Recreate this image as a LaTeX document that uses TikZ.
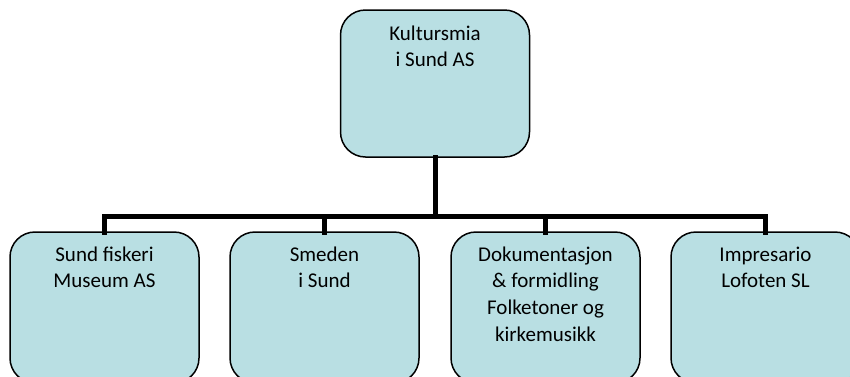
\documentclass[tikz,border=0pt]{standalone}
\usepackage{fontspec}
\setmainfont{Carlito}
\definecolor{boxfill}{RGB}{185,223,227}
\begin{document}
\begin{tikzpicture}[x=1pt,y=-1pt,
  orgbox/.style={draw=black,line width=1.5pt,fill=boxfill,rounded corners=25pt,
    minimum width=189pt,inner sep=0pt,outer sep=0pt,anchor=north},
  orgtext/.style={align=center,anchor=base,inner sep=0pt,
    font={\fontsize{21}{26.7}\selectfont}},
  conn/.style={line width=5pt,line join=miter,line cap=rect}]
\useasboundingbox (0,0) rectangle (850,376);
\clip (0,0) rectangle (850,376);
\node[orgbox,minimum height=147pt] (k0) at (435,10) {};
\node[orgbox,minimum height=151pt] (k1) at (104.5,232) {};
\node[orgbox,minimum height=151pt] (k2) at (324.5,232) {};
\node[orgbox,minimum height=151pt] (k3) at (545.5,232) {};
\node[orgbox,minimum height=151pt] (k4) at (765.5,232) {};
\node[orgtext] (t0) at (435,66.7) {Kultursmia\\i Sund AS};
\node[orgtext] (t1) at (104.5,287.7) {Sund fiskeri\\Museum AS};
\node[orgtext] (t2) at (324.5,287.7) {Smeden\\i Sund};
\node[orgtext] (t3) at (545.5,341.1) {Dokumentasjon\\\& formidling\\Folketoner og\\kirkemusikk};
\node[orgtext] (t4) at (765.5,287.7) {Impresario\\Lofoten SL};
\coordinate (bus) at (435,216);
\draw[conn] (k0.south) -- (bus);
\draw[conn] (k1.north) |- (bus) -| (k4.north);
\draw[conn] (k2.north) -- (k2.north |- bus);
\draw[conn] (k3.north) -- (k3.north |- bus);
\end{tikzpicture}
\end{document}
